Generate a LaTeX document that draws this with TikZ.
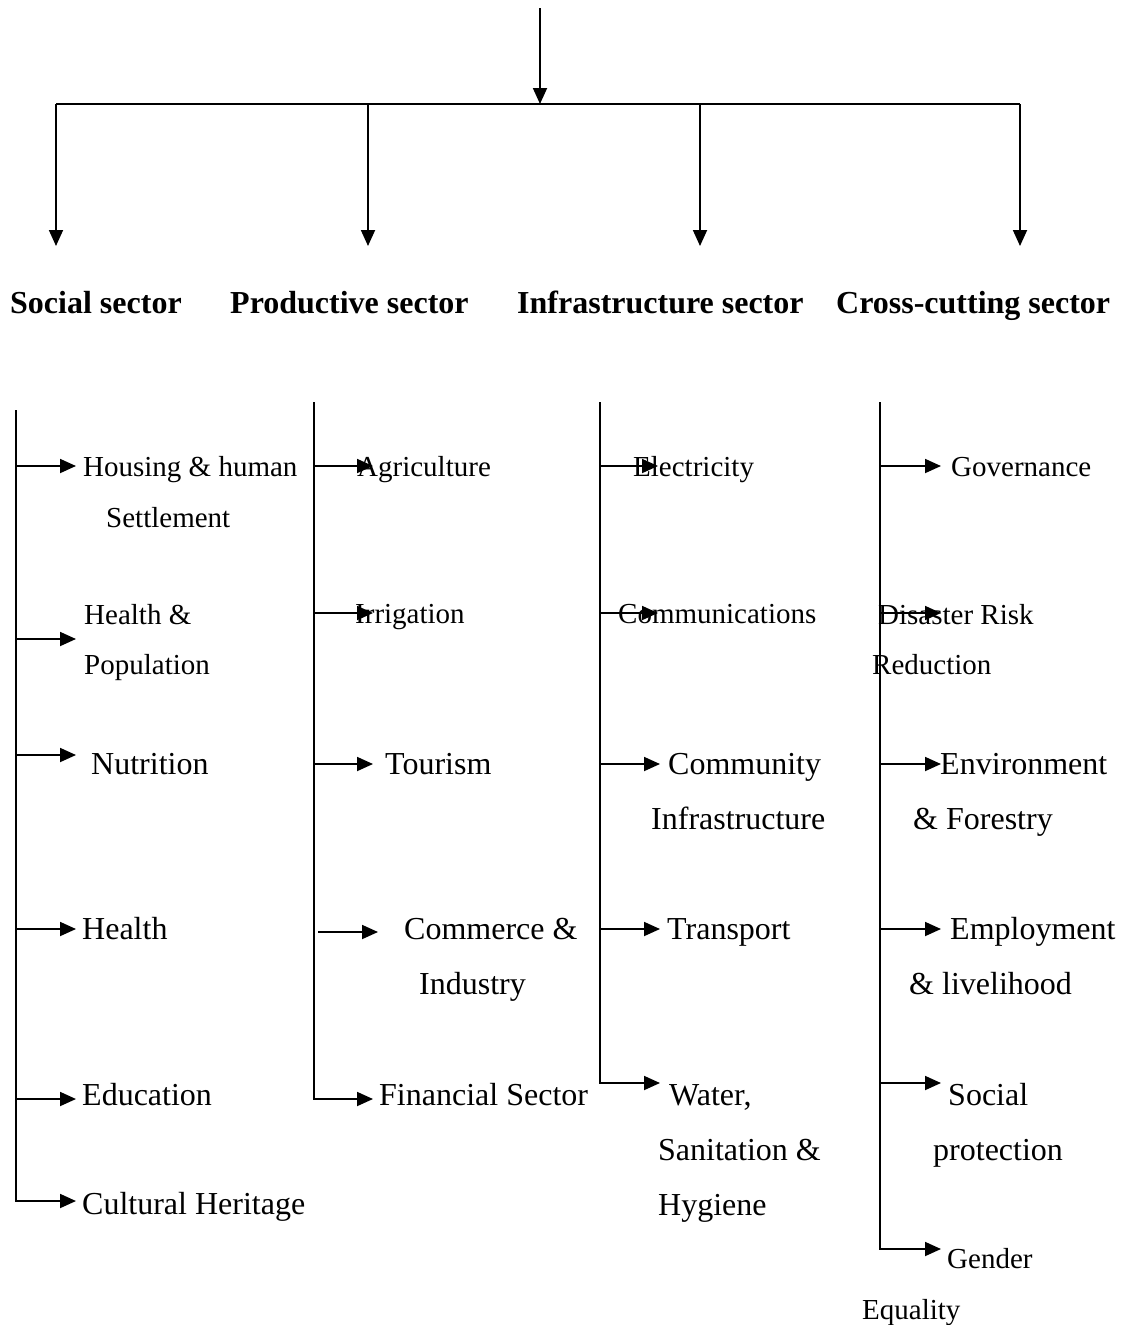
\documentclass[tikz,border=0pt]{standalone}
\usepackage{fontspec}
\setmainfont{Liberation Serif}
\usetikzlibrary{arrows.meta}
\begin{document}
\begin{tikzpicture}[x=1pt,y=-1pt,
  ln/.style={line width=1.8pt},
  arr/.style={ln,-{Triangle[length=16pt,width=14pt]}},
  hdr/.style={anchor=base west,inner sep=0pt,font=\fontsize{32}{38}\selectfont\bfseries},
  itm/.style={anchor=base west,inner sep=0pt,font=\fontsize{32}{38}\selectfont},
  itms/.style={anchor=base west,inner sep=0pt,font=\fontsize{29}{35}\selectfont}]
\useasboundingbox (0,0) rectangle (1124,1325);

% ---- top distribution ----
\coordinate (src) at (540,8);
\coordinate (hub) at (540,104);
\coordinate (hL) at (56,104);
\coordinate (hP) at (368,104);
\coordinate (hI) at (700,104);
\coordinate (hR) at (1020,104);
\coordinate (dS) at (56,246);
\coordinate (dP) at (368,246);
\coordinate (dI) at (700,246);
\coordinate (dC) at (1020,246);
\draw[arr] (src) -- (hub);
\draw[ln] (hL) -- (hR);
\draw[arr] (hL) -- (dS);
\draw[arr] (hP) -- (dP);
\draw[arr] (hI) -- (dI);
\draw[arr] (hR) -- (dC);

% ---- headers ----
\node[hdr] (hSoc) at (10,313) {Social sector};
\node[hdr] (hPro) at (230,313) {Productive sector};
\node[hdr] (hInf) at (517,313) {Infrastructure sector};
\node[hdr] (hCro) at (836,313) {Cross-cutting sector};

% ---- Social sector ----
\node[itms] (s1) at (83,476) {Housing \& human};
\node[itms] (s1b) at (106,527) {Settlement};
\node[itms] (s2) at (84,624) {Health \&};
\node[itms] (s2b) at (84,674) {Population};
\node[itm] (s3) at (91,774) {Nutrition};
\node[itm] (s4) at (82,939) {Health};
\node[itm] (s5) at (82,1105) {Education};
\node[itm] (s6) at (82,1214) {Cultural Heritage};
\coordinate (sTop) at (16,410);
\foreach \n/\y in {1/466,2/639,3/755,4/929,5/1099,6/1201}{
  \coordinate (sa\n) at (16,\y);
  \coordinate (st\n) at (76,\y);
}
\draw[ln] (sTop) -- (sa6);
\foreach \n in {1,...,5}{\draw[arr] (sa\n) -- (st\n);}
\draw[arr] (sTop) |- (st6);

% ---- Productive sector ----
\node[itms] (p1) at (357,476) {Agriculture};
\node[itms] (p2) at (355,623) {Irrigation};
\node[itm] (p3) at (385,774) {Tourism};
\node[itm] (p4) at (404,939) {Commerce \&};
\node[itm] (p4b) at (419,994) {Industry};
\node[itm] (p5) at (379,1105) {Financial Sector};
\coordinate (pTop) at (314,402);
\foreach \n/\y in {1/466,2/613,3/764,5/1099}{
  \coordinate (pa\n) at (314,\y);
  \coordinate (pt\n) at (373,\y);
}
\coordinate (pa4) at (318,932);
\coordinate (pt4) at (378,932);
\foreach \n in {1,2,3,4}{\draw[arr] (pa\n) -- (pt\n);}
\draw[arr] (pTop) |- (pt5);

% ---- Infrastructure sector ----
\node[itms] (i1) at (633,476) {Electricity};
\node[itms] (i2) at (618,623) {Communications};
\node[itm] (i3) at (668,774) {Community};
\node[itm] (i3b) at (651,829) {Infrastructure};
\node[itm] (i4) at (667,939) {Transport};
\node[itm] (i5) at (669,1105) {Water,};
\node[itm] (i5b) at (658,1160) {Sanitation \&};
\node[itm] (i5c) at (658,1215) {Hygiene};
\coordinate (iTop) at (600,402);
\foreach \n/\y/\t in {1/466/658,2/613/658,3/764/660,4/929/660,5/1083/660}{
  \coordinate (ia\n) at (600,\y);
  \coordinate (it\n) at (\t,\y);
}
\foreach \n in {1,...,4}{\draw[arr] (ia\n) -- (it\n);}
\draw[arr] (iTop) |- (it5);

% ---- Cross-cutting sector ----
\node[itms] (c1) at (951,476) {Governance};
\node[itms] (c2) at (878,624) {Disaster Risk};
\node[itms] (c2b) at (872,674) {Reduction};
\node[itm] (c3) at (940,774) {Environment};
\node[itm] (c3b) at (913,829) {\& Forestry};
\node[itm] (c4) at (950,939) {Employment};
\node[itm] (c4b) at (909,994) {\& livelihood};
\node[itm] (c5) at (948,1105) {Social};
\node[itm] (c5b) at (933,1160) {protection};
\node[itms] (c6) at (947,1268) {Gender};
\node[itms] (c6b) at (862,1319) {Equality};
\coordinate (cTop) at (880,402);
\foreach \n/\y in {1/466,2/613,3/764,4/929,5/1083,6/1249}{
  \coordinate (ca\n) at (880,\y);
  \coordinate (ct\n) at (941,\y);
}
\foreach \n in {1,...,5}{\draw[arr] (ca\n) -- (ct\n);}
\draw[arr] (cTop) |- (ct6);
\end{tikzpicture}
\end{document}
